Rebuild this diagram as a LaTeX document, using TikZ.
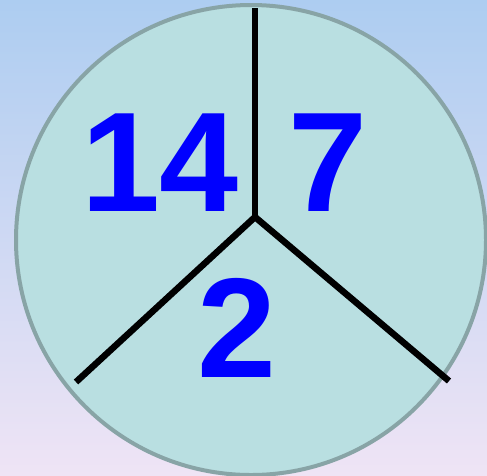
\documentclass[tikz,border=0pt]{standalone}
\usepackage{fontspec}
\setmainfont{Liberation Sans}
\usepackage{tikz}
\definecolor{cSkyTop}{HTML}{ADCDF1}
\definecolor{cSkyBot}{HTML}{EFE4F5}
\definecolor{cDisc}  {HTML}{B9DFE1}
\definecolor{cRim}   {HTML}{88A4A6}
\definecolor{cNum}   {HTML}{0000FF}
\tikzset{
  disc/.style={fill=cDisc,draw=cRim,line width=4pt},
  spoke/.style={draw=black,line width=6.5pt},
  num/.style={inner sep=0pt,text=cNum,
              font=\fontsize{142}{142}\bfseries\selectfont},
}

\begin{document}
\begin{tikzpicture}[x=1pt,y=-1pt]
    \useasboundingbox (0,0) rectangle (487,475);
    \shade[top color=cSkyTop,bottom color=cSkyBot] (0,0) rectangle (487,475);
    \coordinate (o) at (251,240);
    \path[disc] (o) circle[radius=235];
    \coordinate (hub) at (255,217);
    \coordinate (up) at (255,8);
    \coordinate (sw) at (76,382);
    \coordinate (se) at (449,381);
    \draw[spoke] (hub) -- (up);
    \draw[spoke] (hub) -- (sw);
    \draw[spoke] (hub) -- (se);
    \node[num] (n14) at (160,163) {14};
    \node[num] (n7) at (328,163) {7};
    \node[num] (n2) at (237,328) {2};
  \end{tikzpicture}
\end{document}
